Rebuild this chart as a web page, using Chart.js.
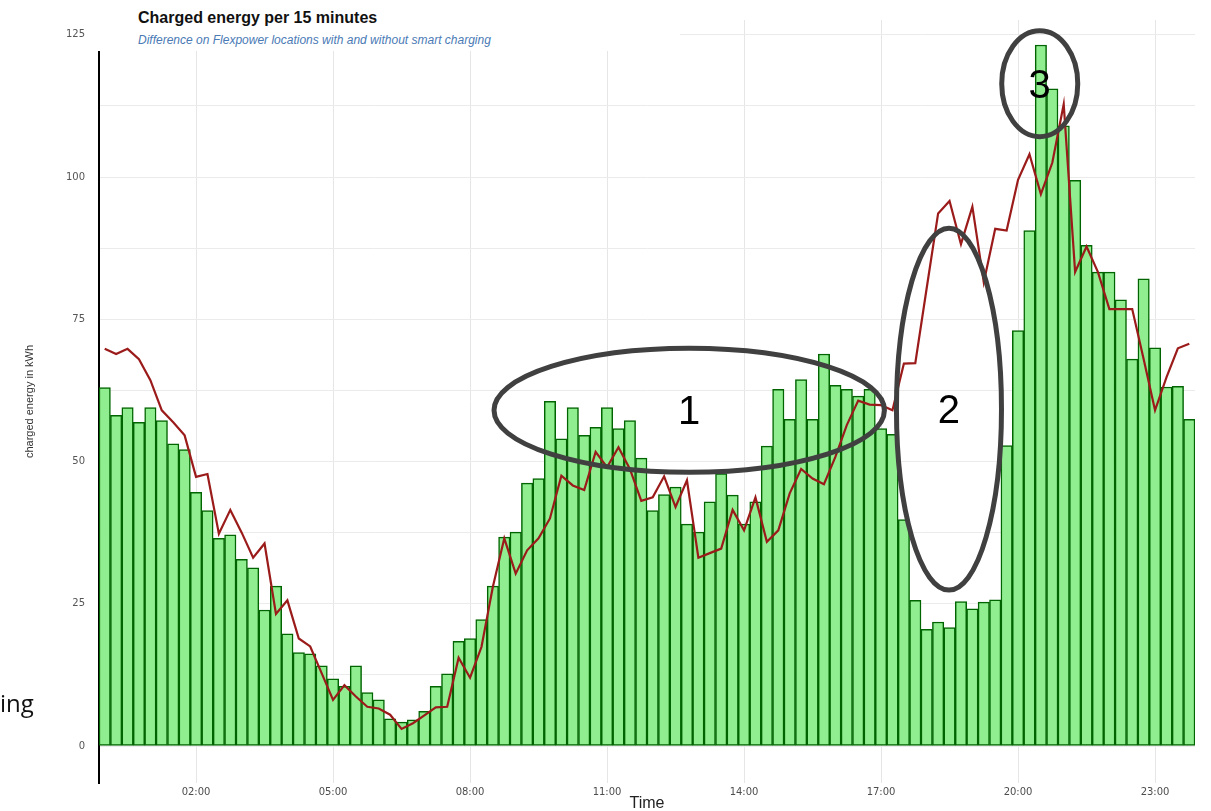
<!DOCTYPE html>
<html>
<head>
<meta charset="utf-8">
<script src="https://cdn.jsdelivr.net/npm/chart.js@4.4.1/dist/chart.umd.min.js"></script>
<style>
  html, body { margin: 0; padding: 0; background: #fff; }
  #wrap { position: relative; width: 1211px; height: 811px; overflow: hidden; }
  #chart { position: absolute; left: 0; top: 0; }
  .titlebox { position: absolute; left: 90px; top: 0; width: 590px; height: 51px; background: #fff; }
  .title { position: absolute; left: 138px; top: 9px; font: bold 16px 'Liberation Sans', Arial, sans-serif; color: #111; }
  .subtitle { position: absolute; left: 138px; top: 33px; font: italic 12px 'Liberation Sans', Arial, sans-serif; color: #4a7ab5; }
  .cut { position: absolute; left: 0; top: 686px; font: 24px 'Open Sans', sans-serif; color: #111; }
</style>
</head>
<body>
<div id="wrap">
  <canvas id="chart" width="1211" height="811"></canvas>
  <div class="titlebox"></div>
  <div class="title">Charged energy per 15 minutes</div>
  <div class="subtitle">Difference on Flexpower locations with and without smart charging</div>
  <div class="cut">ing</div>
</div>
<script>
// charged energy (kWh) per quarter hour, with smart charging (bars)
const barValues = [
  63.0, 58.1, 59.5, 56.9, 59.5, 57.2, 53.1, 52.1, 44.6, 41.4, 36.5, 37.1,
  32.8, 31.3, 23.9, 28.1, 19.7, 16.4, 16.2, 14.1, 11.8, 10.5, 14.1, 9.4,
  8.1, 4.8, 4.2, 4.6, 6.1, 10.5, 12.7, 18.4, 18.9, 22.2, 28.1, 36.7,
  37.6, 46.2, 47.0, 60.6, 54.0, 59.5, 54.6, 56.0, 59.5, 55.8, 57.2, 50.6,
  41.4, 44.2, 45.5, 39.0, 37.6, 42.9, 47.9, 44.1, 39.0, 42.9, 52.7, 62.7,
  57.4, 64.4, 57.4, 68.9, 63.4, 62.7, 61.5, 62.7, 55.8, 54.8, 39.8, 25.6,
  20.5, 21.8, 20.8, 25.4, 24.1, 25.3, 25.7, 52.8, 73.0, 90.6, 123.2, 115.5,
  109.0, 99.4, 88.0, 83.3, 83.3, 78.4, 68.0, 82.1, 70.0, 63.1, 63.2, 57.4
];

// without smart charging (red line)
const lineValues = [
  69.8, 68.9, 69.8, 68.0, 64.3, 59.0, 56.9, 54.6, 47.3, 47.8, 37.3, 41.5,
  37.5, 33.1, 35.6, 23.2, 25.6, 18.9, 17.5, 12.8, 8.1, 10.7, 8.7, 6.9,
  6.6, 5.5, 3.0, 4.0, 5.4, 6.8, 6.9, 15.5, 12.0, 17.4, 28.0, 36.5,
  30.3, 34.4, 36.5, 40.0, 47.5, 45.8, 45.0, 51.7, 49.0, 52.5, 48.7, 43.1,
  43.7, 47.4, 42.0, 46.7, 33.1, 33.9, 34.7, 41.5, 37.9, 43.7, 35.9, 37.9,
  44.4, 48.7, 47.0, 46.0, 50.8, 56.4, 60.7, 60.0, 59.9, 59.0, 67.2, 67.3,
  80.5, 93.6, 95.8, 88.2, 94.8, 81.5, 90.9, 90.6, 99.5, 104.0, 97.0, 102.5,
  112.8, 83.3, 87.8, 83.3, 76.8, 76.8, 76.8, 68.0, 59.0, 64.8, 69.9, 70.7
];

const xTickLabels = ['02:00', '05:00', '08:00', '11:00', '14:00', '17:00', '20:00', '23:00'];
const yGridValues = [0, 12.5, 25, 37.5, 50, 62.5, 75, 87.5, 100, 112.5, 125];
const yTickLabels = [0, 25, 50, 75, 100, 125];

// circled remarks on the slide, in data units (x = quarter index, y = kWh)
const notes = [
  { label: '1', x: 51.2, y: 59.0, rx: 17.1, ry: 10.9 },
  { label: '2', x: 73.95, y: 59.2, rx: 4.6, ry: 31.8 },
  { label: '3', x: 81.9, y: 116.4, rx: 3.33, ry: 9.3 }
];

const times = [];
for (let h = 0; h < 24; h++) {
  for (let m = 0; m < 60; m += 15) {
    times.push(String(h).padStart(2, '0') + ':' + String(m).padStart(2, '0'));
  }
}

const circleNotes = {
  id: 'circleNotes',
  afterDraw(chart) {
    const { ctx, scales: { x, y } } = chart;
    const step = x.getPixelForValue(1) - x.getPixelForValue(0);
    ctx.save();
    notes.forEach(n => {
      const cx = x.getPixelForValue(n.x);
      const cy = y.getPixelForValue(n.y);
      const rx = n.rx * step;
      const ry = Math.abs(y.getPixelForValue(n.y + n.ry) - cy);
      ctx.beginPath();
      ctx.ellipse(cx, cy, rx, ry, 0, 0, Math.PI * 2);
      ctx.lineWidth = 5;
      ctx.strokeStyle = '#404040';
      ctx.stroke();
      ctx.fillStyle = '#000';
      ctx.font = '40px "Liberation Sans", Arial, sans-serif';
      ctx.textAlign = 'center';
      ctx.textBaseline = 'middle';
      ctx.fillText(n.label, cx, cy + 3);
    });
    ctx.restore();
  }
};

new Chart(document.getElementById('chart').getContext('2d'), {
  data: {
    labels: times,
    datasets: [
      {
        type: 'line',
        label: 'without smart charging',
        data: lineValues,
        borderColor: '#9b1b1b',
        borderWidth: 2.2,
        pointRadius: 0,
        tension: 0,
        order: 0
      },
      {
        type: 'bar',
        label: 'with smart charging',
        data: barValues,
        backgroundColor: '#90ee90',
        borderColor: '#006400',
        borderWidth: 1.5,
        borderSkipped: false,
        barPercentage: 1,
        categoryPercentage: 1,
        order: 1
      }
    ]
  },
  options: {
    responsive: false,
    animation: false,
    devicePixelRatio: 1,
    layout: { padding: { top: 8, right: 16, bottom: 0, left: 0 } },
    plugins: {
      legend: { display: false },
      tooltip: { enabled: false }
    },
    scales: {
      x: {
        type: 'category',
        offset: true,
        afterFit: s => { s.height = 28; },
        grid: {
          offset: false,
          drawTicks: false,
          color: '#e6e6e6',
          lineWidth: 1
        },
        border: { display: false },
        ticks: {
          autoSkip: false,
          maxRotation: 0,
          padding: 3,
          color: '#4d4d4d',
          font: { family: 'DejaVu Sans', size: 10 },
          callback: function (v, i) {
            const t = times[i];
            return xTickLabels.includes(t) ? t : null;
          }
        },
        title: {
          display: true,
          text: 'Time',
          color: '#222',
          font: { family: 'Liberation Sans', size: 16, lineHeight: 1 },
          padding: { top: 0, bottom: -1 }
        }
      },
      y: {
        min: -6.5,
        max: 127.6,
        afterFit: s => { s.width = 99; },
        afterBuildTicks: s => { s.ticks = yGridValues.map(v => ({ value: v })); },
        grid: { drawTicks: false, color: '#ebebeb', lineWidth: 1 },
        border: { display: true, color: '#000', width: 2 },
        ticks: {
          padding: 14,
          color: '#555',
          font: { family: 'DejaVu Sans', size: 10 },
          callback: v => (yTickLabels.includes(v) ? String(v) : '')
        },
        title: {
          display: true,
          text: 'charged energy in kWh',
          color: '#333',
          font: { family: 'Liberation Sans', size: 11, lineHeight: 1 },
          padding: { top: 24, bottom: 0 }
        }
      }
    }
  },
  plugins: [circleNotes]
});
</script>
</body>
</html>
